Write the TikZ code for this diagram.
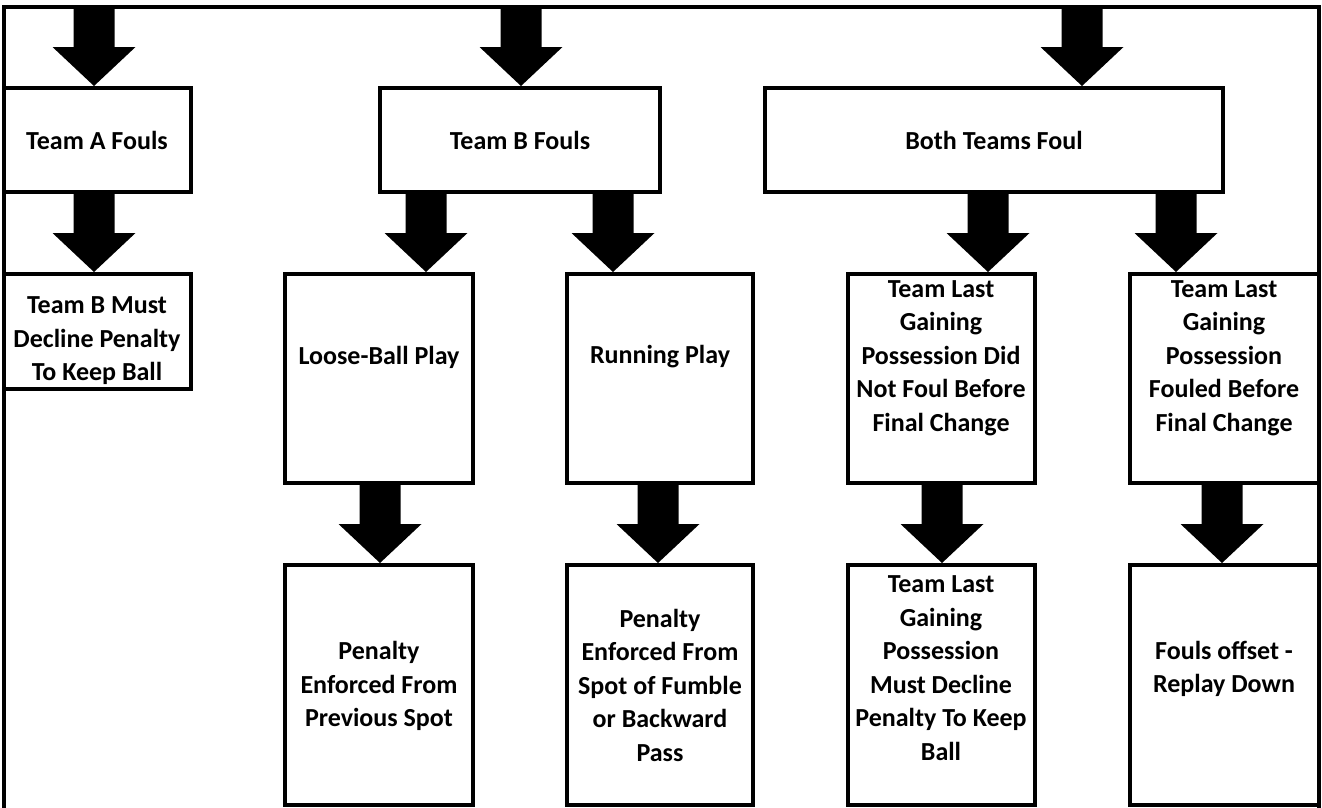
\documentclass[tikz,border=0pt]{standalone}
\usepackage{fontspec}
\setmainfont{Carlito}
\usetikzlibrary{calc}
\tikzset{
  box/.style={draw=black, line width=4pt, inner sep=0pt, fill=white},
  txt/.style={align=center, inner sep=0pt, font=\bfseries\fontsize{26}{33.5}\selectfont},
  frameline/.style={draw=black, line width=4pt, line join=miter}
}
% box: name, x1, y1, x2, y2 (pixel coordinates, y downwards)
\newcommand\mkbox[5]{%
  \node[box, minimum width={#4pt-#2pt}, minimum height={#5pt-#3pt}]
    (#1) at ({(#2+#4)/2},{(#3+#5)/2}) {};}
% block arrow: from anchor, to anchor, x position
\newcommand\barrow[3]{%
  \fill[black] let \p1=(#1), \p2=(#2) in
    ({#3pt-20.5pt},\y1) -- ({#3pt+20.5pt},\y1) -- ({#3pt+20.5pt},{\y2+39pt})
    -- ({#3pt+41.5pt},{\y2+39pt}) -- (#3pt,\y2) -- ({#3pt-41.5pt},{\y2+39pt})
    -- ({#3pt-20.5pt},{\y2+39pt}) -- cycle;}
\begin{document}
\begin{tikzpicture}[x=1pt, y=-1pt]
\useasboundingbox (0,0) rectangle (1322,807);
\fill[white] (0,0) rectangle (1322,807);
% outer frame (open at the bottom)
\draw[frameline] (4,812) -- (4,7) -- (1319,7) -- (1319,812);
\coordinate (top) at (661,7);

% row 1
\mkbox{a}{4}{88}{191}{192}
\mkbox{b}{380}{88}{660}{192}
\mkbox{c}{765}{88}{1223}{192}
% row 2
\mkbox{ad}{4}{274}{191}{389}
\mkbox{loose}{285}{274}{473}{483}
\mkbox{run}{567}{274}{753}{483}
\mkbox{tla}{848}{274}{1035}{483}
\mkbox{tlb}{1130}{274}{1319}{483}
% row 3
\mkbox{pa}{285}{565}{473}{805}
\mkbox{pb}{567}{565}{753}{805}
\mkbox{tlc}{848}{565}{1035}{805}
\mkbox{off}{1130}{565}{1319}{805}

% texts
\node[txt] (ta) at (97,140) {Team A Fouls};
\node[txt] (tb) at (520,140) {Team B Fouls};
\node[txt] (tc) at (994,140) {Both Teams Foul};
\node[txt] (tad) at (97,341) {Team B Must\\Decline Penalty\\To Keep Ball};
\node[txt] (tloose) at (379,357) {Loose-Ball Play};
\node[txt] (trun) at (660,357) {Running Play};
\node[txt] (ttla) at (941,358) {Team Last\\Gaining\\Possession Did\\Not Foul Before\\Final Change};
\node[txt] (ttlb) at (1224,358) {Team Last\\Gaining\\Possession\\Fouled Before\\Final Change};
\node[txt] (tpa) at (379,686) {Penalty\\Enforced From\\Previous Spot};
\node[txt] (tpb) at (660,685) {Penalty\\Enforced From\\Spot of Fumble\\or Backward\\Pass};
\node[txt] (ttlc) at (941,668) {Team Last\\Gaining\\Possession\\Must Decline\\Penalty To Keep\\Ball};
\node[txt] (toff) at (1224,669) {Fouls offset -\\Replay Down};

% arrows
\barrow{top}{a.north}{94}
\barrow{top}{b.north}{521}
\barrow{top}{c.north}{1082}
\barrow{a.south}{ad.north}{94}
\barrow{b.south}{loose.north}{426}
\barrow{b.south}{run.north}{613}
\barrow{c.south}{tla.north}{988}
\barrow{c.south}{tlb.north}{1176}
\barrow{loose.south}{pa.north}{380}
\barrow{run.south}{pb.north}{658}
\barrow{tla.south}{tlc.north}{942}
\barrow{tlb.south}{off.north}{1222}
\end{tikzpicture}
\end{document}
